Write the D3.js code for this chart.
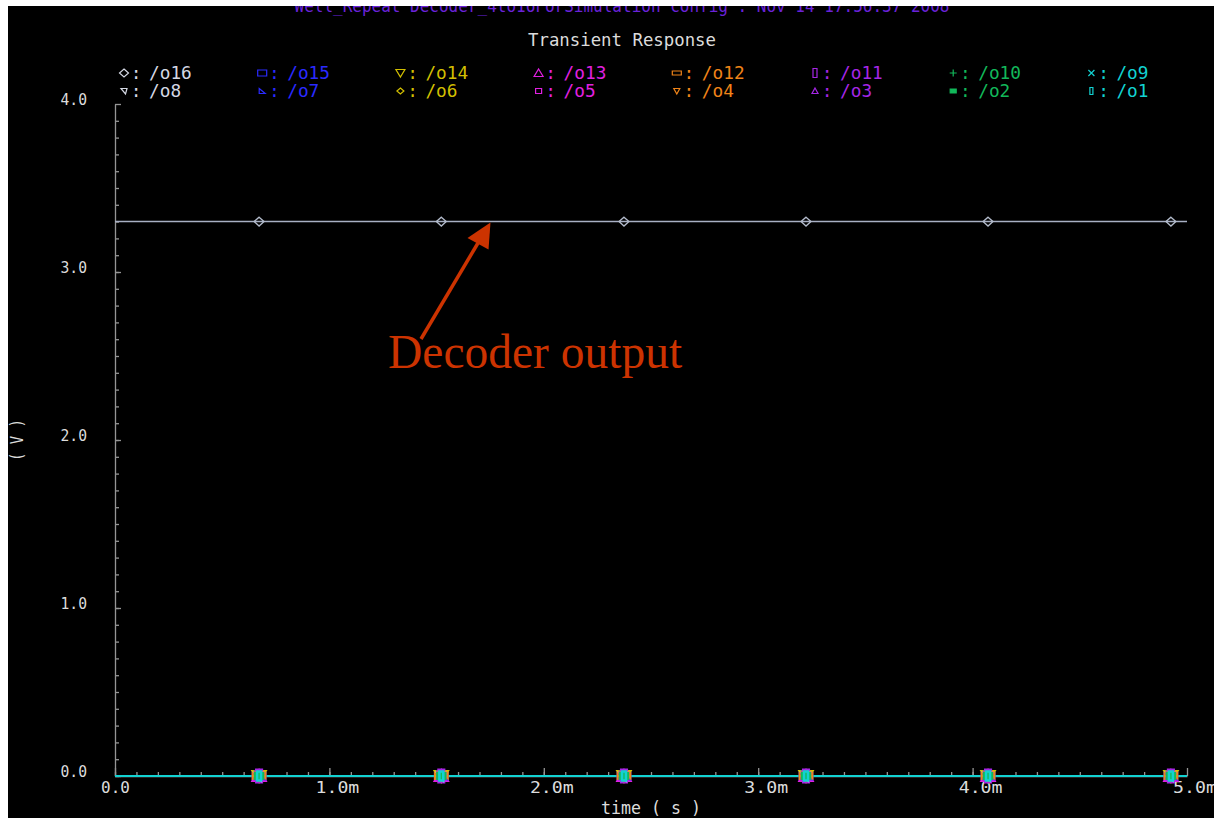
<!DOCTYPE html>
<html><head><meta charset="utf-8">
<script src="https://cdn.jsdelivr.net/npm/d3@7"></script>
<style>
html,body{margin:0;padding:0;background:#fff;overflow:hidden;}
svg{display:block;}
</style></head><body>
<script>
// Transient simulation of the 4-to-16 decoder outputs
const seriesNames = ["/o16","/o15","/o14","/o13","/o12","/o11","/o10","/o9",
                     "/o8","/o7","/o6","/o5","/o4","/o3","/o2","/o1"];
const seriesLevels = [3.3, 0, 0, 0, 0, 0, 0, 0, 0, 0, 0, 0, 0, 0, 0, 0]; // volts
const timeSpan = [0, 5];                                              // ms
const markerTimes = [0.672, 1.522, 2.374, 3.223, 4.072, 4.925];       // ms
const xTickValues = [0, 1, 2, 3, 4, 5];
const xTickLabels = ["0.0", "1.0m", "2.0m", "3.0m", "4.0m", "5.0m"];
const yTickValues = [0, 1, 2, 3, 4];
const yTickLabels = ["0.0", "1.0", "2.0", "3.0", "4.0"];
const plotTitle = "Transient Response";
const headerText = "Well_Repeat Decoder_4to16ForSimulation config : Nov 14 17:56:37 2008";
const xAxisTitle = "time ( s )";
const yAxisTitle = "( V )";
const annotationText = "Decoder output";

// Waveform window styling
const seriesColors = ["#d4d8e4","#2a2aff","#d2bf00","#e020e0","#f08418","#a626e6","#12b85a","#12d2d2",
                      "#d4d8e4","#2a2aff","#d2bf00","#e020e0","#f08418","#a626e6","#12b85a","#12d2d2"];
const seriesShapes = ["diamond","rect","tridown","triup","flat","tall","plus","cross",
                      "wedge","wedgeR","sdiamond","ssquare","stridown","striup","sfill","stall"];
const W = 1214, H = 818;
const mono = "'DejaVu Sans Mono', 'Liberation Mono', monospace";
const axisGrey = "#959595";
const labelGrey = "#dcdcdc";

const svg = d3.select("body").append("svg").attr("width", W).attr("height", H);
svg.append("defs").append("clipPath").attr("id", "win")
  .append("rect").attr("x", 8).attr("y", 6).attr("width", W - 8).attr("height", H - 6);
const root = svg.append("g").attr("clip-path", "url(#win)");
root.append("rect").attr("x", 8).attr("y", 6).attr("width", W - 8).attr("height", H - 6).attr("fill", "#000");

const x = d3.scaleLinear().domain(timeSpan).range([115, 1187]);
const y = d3.scaleLinear().domain([0, 4]).range([776, 104]);

function symbolPath(shape) {
  switch (shape) {
    case "diamond":  return "M0,-4L4.5,0L0,4L-4.5,0Z";
    case "rect":     return "M-4.5,-3H4.5V3H-4.5Z";
    case "tridown":  return "M-4.5,-3.5H4.5L0,4Z";
    case "triup":    return "M0,-4L4.5,3.5H-4.5Z";
    case "flat":     return "M-4.5,-2H4.5V2H-4.5Z";
    case "tall":     return "M-2,-4.5H2V4.5H-2Z";
    case "plus":     return "M-3.5,0H3.5M0,-3.5V3.5";
    case "cross":    return "M-3,-3L3,3M3,-3L-3,3";
    case "wedge":    return "M-3,-2.5H3L1.5,3Z";
    case "wedgeR":   return "M-3,-2.5L3,2.5H-3Z";
    case "sdiamond": return "M0,-3L3.5,0L0,3L-3.5,0Z";
    case "ssquare":  return "M-3,-2.5H3V2.5H-3Z";
    case "stridown": return "M-3,-2.5H3L0,3Z";
    case "striup":   return "M0,-3L3,2.5H-3Z";
    case "sfill":    return "M-3,-2H3V2H-3Z";
    case "stall":    return "M-1.5,-3.5H1.5V3.5H-1.5Z";
  }
}

// Header (clipped by the window frame) and title
root.append("text").attr("x", 622).attr("y", 12).attr("text-anchor", "middle")
  .attr("font-family", mono).attr("font-size", 17).attr("fill", "#6a22d8")
  .attr("textLength", 655).attr("lengthAdjust", "spacingAndGlyphs").text(headerText);
root.append("text").attr("x", 622).attr("y", 46).attr("text-anchor", "middle")
  .attr("font-family", mono).attr("font-size", 17).attr("fill", labelGrey)
  .attr("textLength", 188).attr("lengthAdjust", "spacingAndGlyphs").text(plotTitle);

// Legend: two rows of eight
const legend = root.append("g");
seriesNames.forEach((name, i) => {
  const col = i % 8, row = Math.floor(i / 8);
  const gx = 118 + col * 138.2, gy = row === 0 ? 79 : 97;
  const g = legend.append("g").attr("transform", `translate(${gx},${gy})`);
  g.append("path").attr("transform", "translate(6,-6)").attr("d", symbolPath(seriesShapes[i]))
    .attr("fill", seriesShapes[i] === "sfill" ? seriesColors[i] : "none")
    .attr("stroke", seriesColors[i]).attr("stroke-width", 1.2);
  g.append("text").attr("x", 13).attr("font-family", mono).attr("font-size", 17)
    .attr("fill", seriesColors[i]).text(":");
  g.append("text").attr("x", 31).attr("font-family", mono).attr("font-size", 17)
    .attr("fill", seriesColors[i])
    .attr("textLength", name.length * 10.7).attr("lengthAdjust", "spacingAndGlyphs").text(name);
});

// Axes
function styleAxis(g) {
  g.selectAll("path.domain").attr("stroke", axisGrey).attr("stroke-width", 1.3);
  g.selectAll(".tick line").attr("stroke", axisGrey).attr("stroke-width", 1.3);
  g.selectAll("text").attr("fill", labelGrey).attr("font-family", mono).attr("font-size", 16);
}
const xMinor = d3.range(0, 50).map(d => d / 10);
const yMinor = d3.range(0, 40).map(d => d / 10);

root.append("g").attr("transform", "translate(0,776)")
  .call(d3.axisBottom(x).tickValues(xMinor).tickSizeInner(-4).tickSizeOuter(0).tickFormat(""))
  .call(styleAxis);
const xAxisG = root.append("g").attr("transform", "translate(0,776)")
  .call(d3.axisBottom(x).tickValues(xTickValues).tickSizeInner(-8).tickSizeOuter(0)
    .tickPadding(5).tickFormat((d, i) => xTickLabels[i]))
  .call(styleAxis);
xAxisG.select("path.domain").remove();
xAxisG.selectAll("text").attr("text-anchor", "start").attr("dx", -14.4).attr("dy", "0.72em")
  .attr("textLength", function () {
    const s = this.textContent;
    return s.endsWith("m") ? 28.8 + 15 : 28.8;
  })
  .attr("lengthAdjust", "spacingAndGlyphs");

root.append("g").attr("transform", "translate(115,0)")
  .call(d3.axisLeft(y).tickValues(yMinor).tickSizeInner(-4).tickSizeOuter(0).tickFormat(""))
  .call(styleAxis);
const yAxisG = root.append("g").attr("transform", "translate(115,0)")
  .call(d3.axisLeft(y).tickValues(yTickValues).tickSizeInner(-6).tickSizeOuter(0)
    .tickPadding(28).tickFormat((d, i) => yTickLabels[i]))
  .call(styleAxis);
yAxisG.select("path.domain").remove();
yAxisG.selectAll("text").attr("dy", "0.02em")
  .attr("textLength", 26.5).attr("lengthAdjust", "spacingAndGlyphs");

// Axis titles
root.append("text").attr("x", 651).attr("y", 814).attr("text-anchor", "middle")
  .attr("font-family", mono).attr("font-size", 17).attr("fill", labelGrey)
  .attr("textLength", 100).attr("lengthAdjust", "spacingAndGlyphs").text(xAxisTitle);
root.append("text").attr("transform", "translate(23,440) rotate(-90)").attr("text-anchor", "middle")
  .attr("font-family", mono).attr("font-size", 17).attr("fill", labelGrey)
  .attr("textLength", 42).attr("lengthAdjust", "spacingAndGlyphs").text(yAxisTitle);

// Waveforms: each output is flat across the run
const line = d3.line().x(d => x(d[0])).y(d => y(d[1]));
seriesNames.forEach((name, i) => {
  const pts = timeSpan.map(t => [t, seriesLevels[i]]);
  const col = i === 0 ? "#a8b0c4" : seriesColors[i];
  root.append("path").attr("d", line(pts)).attr("fill", "none")
    .attr("stroke", col).attr("stroke-width", i === 0 ? 1.5 : 2);
});
// Point markers, drawn from /o16 down to /o1 so /o1 sits on top
seriesNames.forEach((name, i) => {
  const big = i < 8 && i > 0;
  root.append("g").selectAll("path").data(markerTimes).join("path")
    .attr("transform", t => `translate(${x(t)},${y(seriesLevels[i])}) scale(${i === 0 ? 1.1 : big ? 1.35 : 1.3})`)
    .attr("d", symbolPath(seriesShapes[i]))
    .attr("fill", seriesShapes[i] === "sfill" ? seriesColors[i] : "none")
    .attr("stroke", i === 0 ? "#b4bccc" : seriesColors[i])
    .attr("stroke-width", i === 0 ? 1.2 : 2);
});

// Annotation
const accent = "#cc3300";
root.append("line").attr("x1", 421).attr("y1", 339).attr("x2", 478).attr("y2", 243)
  .attr("stroke", accent).attr("stroke-width", 3.5);
root.append("path").attr("d", "M490.5,222.5L467.5,238L488.5,249.5Z").attr("fill", accent);
root.append("text").attr("x", 388).attr("y", 368)
  .attr("font-family", "'Liberation Serif', 'Times New Roman', serif").attr("font-size", 47.5)
  .attr("fill", accent).text(annotationText);
</script>
</body></html>
